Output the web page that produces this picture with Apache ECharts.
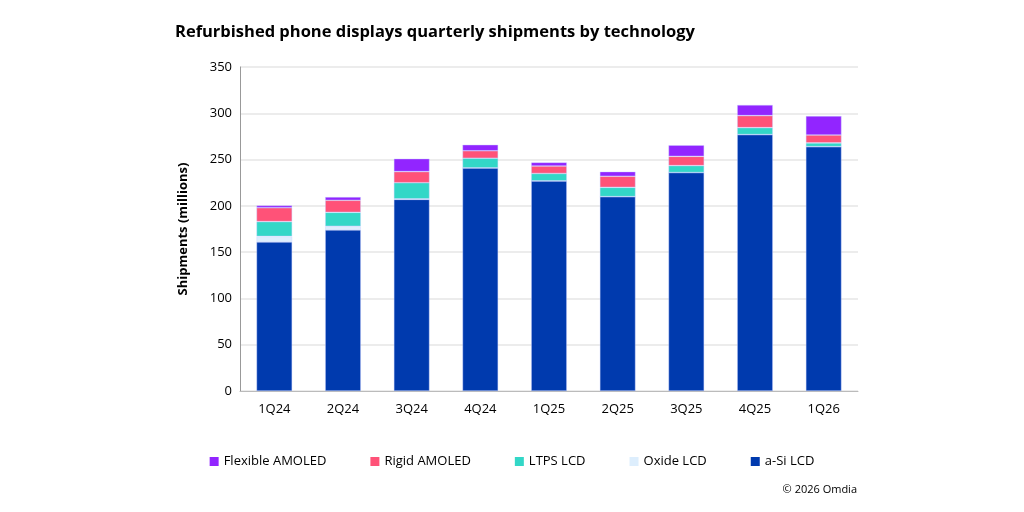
<!DOCTYPE html><html><head><meta charset="utf-8"><script src="https://cdn.jsdelivr.net/npm/echarts@6/dist/echarts.min.js"></script>
<style>body{margin:0;background:#fff}#c{width:1024px;height:512px}</style></head><body><div id="c"></div><script>
const categories=['1Q24','2Q24','3Q24','4Q24','1Q25','2Q25','3Q25','4Q25','1Q26'];
const aSiLCD=[161,174,207,241,227,210,236,277,264];
const oxideLCD=[6,4,0.5,0,0,0,0,0,0];
const ltpsLCD=[16,15,17.5,10.5,8,10,7.5,7.5,4];
const rigidAMOLED=[15,13,12,8,8,12,10,13,8.5];
const flexibleAMOLED=[2.5,3.5,14,6.5,4,5,12,11.5,20.5];
const yTicks={min:0,max:350,interval:50};
const f='"Open Sans", Lato, sans-serif';
const mk=(n,d,c)=>({name:n,type:'bar',stack:'s',data:d,barWidth:'52%',itemStyle:{color:c,borderColor:'rgba(200,210,255,0.7)',borderWidth:0.6}});
echarts.init(document.getElementById('c')).setOption({
animation:false,
title:{text:'Refurbished phone displays quarterly shipments by technology',left:170,top:19,textStyle:{fontFamily:f,fontSize:16.5,fontWeight:'bold',color:'#000'}},
grid:{left:240,right:166,top:67,bottom:121},
legend:{bottom:39,left:'center',itemWidth:9,itemHeight:9,itemGap:44,icon:'rect',itemStyle:{borderWidth:0},textStyle:{fontFamily:f,fontSize:13,color:'#000'},
data:['Flexible AMOLED','Rigid AMOLED','LTPS LCD','Oxide LCD','a-Si LCD']},
graphic:[{type:'text',right:167,top:484,style:{text:'© 2026 Omdia',font:'11px '+f,fill:'#000'}}],
xAxis:{type:'category',data:categories,axisTick:{show:false},axisLine:{lineStyle:{color:'#bbb'}},axisLabel:{fontFamily:f,fontSize:13,color:'#000',margin:12}},
yAxis:{type:'value',...yTicks,name:'Shipments (millions)',nameLocation:'middle',nameGap:50,nameTextStyle:{fontFamily:f,fontSize:13,fontWeight:'bold',color:'#000'},
axisLine:{show:true,lineStyle:{color:'#999'}},axisLabel:{fontFamily:f,fontSize:13,color:'#000'},splitLine:{lineStyle:{color:'#e6e6e6',width:1.5}}},
series:[mk('a-Si LCD',aSiLCD,'#003AAE'),mk('Oxide LCD',oxideLCD,'#DDEEFD'),mk('LTPS LCD',ltpsLCD,'#33D7C7'),mk('Rigid AMOLED',rigidAMOLED,'#FF5278'),mk('Flexible AMOLED',flexibleAMOLED,'#9225FF')]
});
</script></body></html>
